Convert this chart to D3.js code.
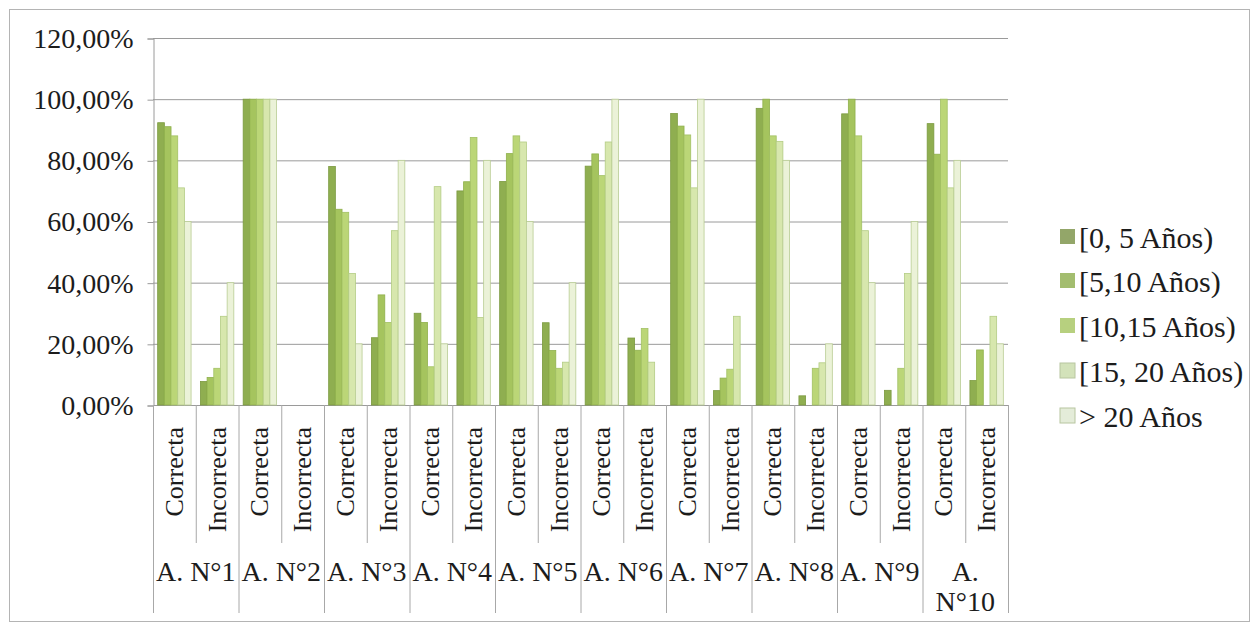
<!DOCTYPE html>
<html>
<head>
<meta charset="utf-8">
<script src="https://cdn.jsdelivr.net/npm/d3@7"></script>
<style>
  html, body { margin: 0; padding: 0; background: #fff; }
  svg { display: block; }
  svg text { font-family: "Liberation Serif", "DejaVu Serif", "Noto Serif", "Tinos", "FreeSerif", "Times New Roman", Times, serif; }
</style>
</head>
<body>
<svg id="chart" width="1254" height="625"></svg>
<script>
// groups and answer types
const groups = ["A. N°1", "A. N°2", "A. N°3", "A. N°4", "A. N°5", "A. N°6", "A. N°7", "A. N°8", "A. N°9", "A. N°10"];
const answers = ["Correcta", "Incorrecta"];
const seriesNames = ["[0, 5 Años)", "[5,10 Años)", "[10,15 Años)", "[15, 20 Años)", "> 20 Años"];
const yTicks = [0, 20, 40, 60, 80, 100, 120];

// values in %, order: N1 Correcta, N1 Incorrecta, N2 Correcta, ...
const s0to5 = [92.3, 7.7, 100, 0, 78.0, 22.0, 30.0, 70.0, 73.1, 26.9, 78.1, 21.9, 95.3, 4.7, 97.0, 3.0, 95.2, 4.8, 92.0, 8.0];
const s5to10 = [91.0, 9.0, 100, 0, 64.0, 36.0, 27.0, 73.0, 82.2, 17.8, 82.1, 17.9, 91.2, 8.8, 100, 0, 100, 0, 82.0, 18.0];
const s10to15 = [88.0, 12.0, 100, 0, 63.0, 27.0, 12.5, 87.5, 88.0, 12.0, 75.0, 25.0, 88.3, 11.7, 88.0, 12.0, 88.0, 12.0, 100, 0];
const s15to20 = [71.0, 29.0, 100, 0, 43.0, 57.0, 71.4, 28.6, 86.0, 14.0, 86.0, 14.0, 71.0, 29.0, 86.2, 13.8, 57.0, 43.0, 71.0, 29.0];
const sOver20 = [60.0, 40.0, 100, 0, 20.0, 80.0, 20.0, 80.0, 60.0, 40.0, 100, 0, 100, 0, 80.0, 20.0, 40.0, 60.0, 80.0, 20.0];

const seriesValues = [s0to5, s5to10, s10to15, s15to20, sOver20];
const barFill = ["#8fae50", "#a5c45e", "#bbd677", "#d7e7ad", "#ebf2d8"];
const barStroke = ["#7c9a40", "#8fb04c", "#a2c064", "#b3cc84", "#b9cd94"];
const legendFill = ["#93a669", "#a3bd6f", "#b7d07f", "#d3e2ba", "#e4ecd9"];

const svg = d3.select("#chart");

// outer frame
svg.append("rect")
  .attr("x", 9.5).attr("y", 9.5)
  .attr("width", 1240).attr("height", 612)
  .attr("fill", "none")
  .attr("stroke", "#b4b4b4");

const plotLeft = 153, plotRight = 1008, plotTop = 38, plotBottom = 405;

const keys = [];
groups.forEach((g, gi) => answers.forEach((a, ai) => keys.push(gi * 2 + ai)));

const x0 = d3.scaleBand().domain(keys).range([plotLeft, plotRight]).padding(0);
const x1 = d3.scaleBand().domain(d3.range(seriesNames.length))
  .range([0, x0.bandwidth()]).paddingInner(0).paddingOuter(0.7);
const y = d3.scaleLinear().domain([0, 120]).range([plotBottom, plotTop]);

// gridlines
svg.append("g")
  .selectAll("line")
  .data(yTicks)
  .join("line")
  .attr("x1", plotLeft).attr("x2", plotRight)
  .attr("y1", (d) => y(d) + 0.5).attr("y2", (d) => y(d) + 0.5)
  .attr("stroke", "#9a9a9a");

// y axis
const fmt = (d) => d3.format(".2f")(d).replace(".", ",") + "%";
const yAxis = svg.append("g")
  .attr("transform", "translate(" + (plotLeft + 0.5) + ",0.5)")
  .call(d3.axisLeft(y).tickValues(yTicks).tickFormat(fmt).tickSize(6).tickPadding(14));
yAxis.select(".domain").attr("stroke", "#9a9a9a");
yAxis.selectAll(".tick line").attr("stroke", "#9a9a9a");
yAxis.selectAll(".tick text")
  .attr("font-size", 28)
  .attr("fill", "#1c1c1c");

// bars
const barGroups = svg.append("g")
  .selectAll("g")
  .data(keys)
  .join("g")
  .attr("transform", (k) => "translate(" + x0(k) + ",0)");

barGroups.selectAll("rect")
  .data((k) => seriesValues.map((vals, si) => ({ si: si, v: vals[k] })).filter((d) => d.v > 0))
  .join("rect")
  .attr("x", (d) => x1(d.si))
  .attr("y", (d) => y(d.v))
  .attr("width", x1.bandwidth())
  .attr("height", (d) => plotBottom - y(d.v))
  .attr("fill", (d) => barFill[d.si])
  .attr("stroke", (d) => barStroke[d.si])
  .attr("stroke-width", 0.8);

// category label area
const lab = svg.append("g");
keys.forEach((k) => {
  const isGroupEdge = k % 2 === 0;
  lab.append("line")
    .attr("x1", x0(k) + 0.5).attr("x2", x0(k) + 0.5)
    .attr("y1", plotBottom).attr("y2", isGroupEdge ? 613 : 543)
    .attr("stroke", "#a8a8a8");
});
lab.append("line")
  .attr("x1", plotRight + 0.5).attr("x2", plotRight + 0.5)
  .attr("y1", plotBottom).attr("y2", 613)
  .attr("stroke", "#a8a8a8");

keys.forEach((k) => {
  const cx = x0(k) + x0.bandwidth() / 2;
  lab.append("text")
    .attr("transform", "translate(" + cx + ",427) rotate(-90)")
    .attr("text-anchor", "end")
    .attr("dominant-baseline", "central")
    .attr("font-size", 26)
    .attr("fill", "#1c1c1c")
    .text(answers[k % 2]);
});

groups.forEach((g, gi) => {
  const cx = x0(gi * 2) + x0.bandwidth();
  const parts = g === "A. N°10" ? ["A.", "N°10"] : [g];
  parts.forEach((p, pi) => {
    lab.append("text")
      .attr("x", cx)
      .attr("y", 571 + pi * 30)
      .attr("text-anchor", "middle")
      .attr("dominant-baseline", "central")
      .attr("font-size", 28)
      .attr("fill", "#1c1c1c")
      .text(p);
  });
});

// legend
const legendY = [237, 281, 326, 371, 416];
const legend = svg.append("g")
  .selectAll("g")
  .data(seriesNames)
  .join("g")
  .attr("transform", (d, i) => "translate(1060," + legendY[i] + ")");

legend.append("rect")
  .attr("x", 0).attr("y", -8)
  .attr("width", 15).attr("height", 15)
  .attr("fill", (d, i) => legendFill[i])
  .attr("stroke", (d, i) => (i > 2 ? "#b8c6a0" : "none"));

legend.append("text")
  .attr("x", 19)
  .attr("dominant-baseline", "central")
  .attr("font-size", 30)
  .attr("fill", "#1c1c1c")
  .text((d) => d);
</script>
</body>
</html>
